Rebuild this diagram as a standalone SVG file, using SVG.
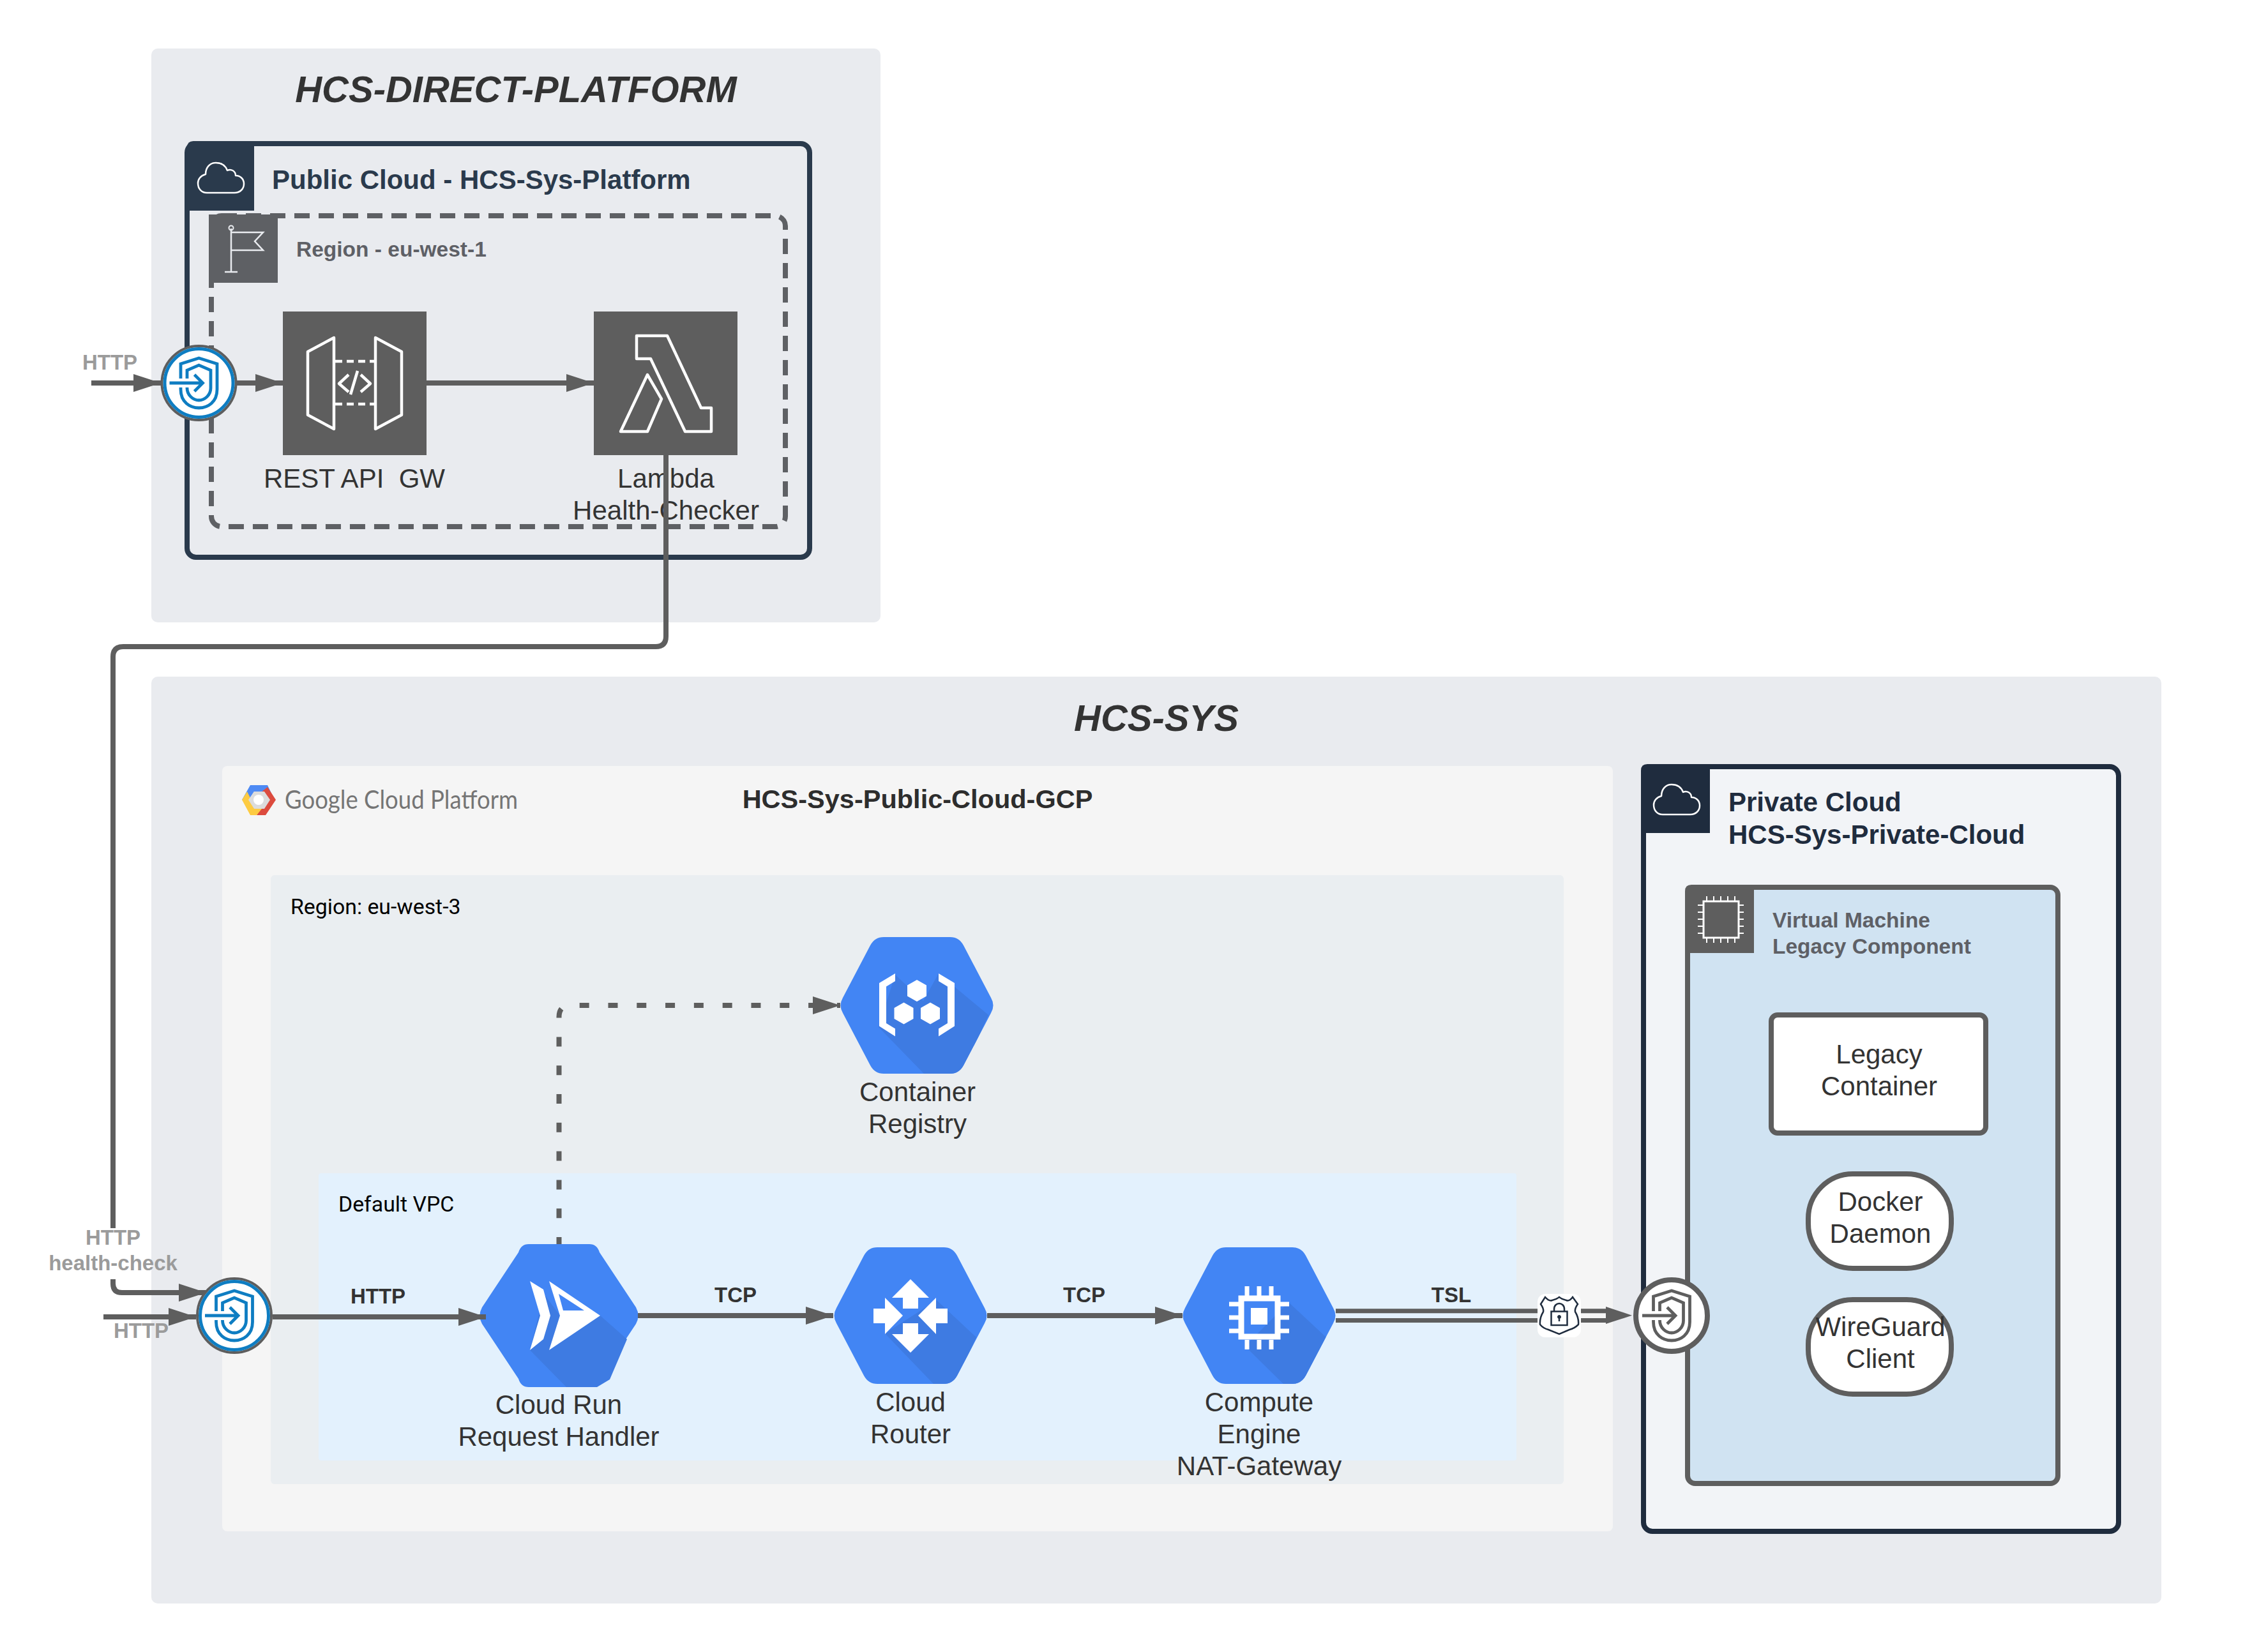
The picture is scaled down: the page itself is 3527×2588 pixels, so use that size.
<svg xmlns="http://www.w3.org/2000/svg" xmlns:xlink="http://www.w3.org/1999/xlink" width="3527" height="2588" viewBox="0 0 3527 2588">
<style>
text{font-family:"Liberation Sans",Arial,sans-serif;white-space:pre}
.lbl{font-size:42px;fill:#333;text-anchor:middle}
.title{font-size:58px;font-weight:bold;font-style:italic;fill:#333;text-anchor:middle}
.head{font-size:42px;font-weight:bold;fill:#1f2c3e}
.sub{font-size:33.500px;font-weight:bold;fill:#5e6066}
.gl{font-size:33px;font-weight:bold;fill:#9b9b9b;text-anchor:middle}
.el{font-size:33px;font-weight:bold;fill:#333;text-anchor:middle}
.rb{font-family:Roboto,"Liberation Sans",sans-serif;font-size:33.800px;fill:#000}
.line{fill:none;stroke:#5e5e5e;stroke-width:8}
.wo{fill:none;stroke:#fff;stroke-width:4.5;stroke-linejoin:round}
.hex{fill:#4285f4}.shade{fill:#3e7be2}
.sh{fill:none;stroke:currentColor;stroke-width:4.8;stroke-linejoin:miter}
.w{fill:#fff}
.shapebox{stroke:#5e5e5e;stroke-width:8;fill:#fff}
</style>
<defs>
<marker id="a" markerUnits="userSpaceOnUse" markerWidth="44" markerHeight="30" refX="43" refY="14" orient="auto"><path d="M0 0L43 14L0 28Z" fill="#5e5e5e"/></marker>
<path id="hexp" d="M68 0H172Q186 0 193 13L236 95Q243 107 236 119L193 201Q186 214 172 214H68Q54 214 47 201L4 119Q-3 107 4 95L47 13Q54 0 68 0Z"/>
<clipPath id="hc"><use xlink:href="#hexp"/></clipPath>
<path id="cl" class="wo" style="stroke-width:2.5" d="M15 48H58C67 48 73 42 73 34C73 26 67 21 60 21C60 14 53 10 47 13C44 5 37 1 29 1C20 1 13 8 13 19C5 21 1 27 1 33C1 42 7 48 15 48Z"/>
<g id="shi">
<path class="sh" d="M-28.500 -7V-30L0 -39L28.500 -30V10C28.500 30 14 39 0 39C-14 39 -28.500 30 -28.500 10V7"/>
<path class="sh" d="M-18.500 -7V-20L0 -28L18.500 -20V8C18.500 19 9 27 0 27C-9 27 -18.500 19 -18.500 8V7"/>
<path class="sh" d="M-46 0H6M-7 -13L6 0L-7 13"/>
</g>
</defs>

<g id="hcs-direct-platform">
<rect x="237" y="76" width="1142" height="899" rx="10" fill="#e9ebef"/>
<text class="title" x="808" y="160">HCS-DIRECT-PLATFORM</text>
</g>
<g id="hcs-sys">
<rect x="237" y="1060" width="3148" height="1452" rx="10" fill="#e9ebef"/>
<text class="title" x="1811" y="1145">HCS-SYS</text>
</g>

<g id="public-cloud">
<rect x="293" y="225" width="975" height="648" rx="14" fill="#e9ebef" stroke="#2a3a4c" stroke-width="8"/>
<path d="M303 221H398V330H293V231Q293 221 303 221Z" fill="#2a3a4c"/>
<use xlink:href="#cl" x="309" y="254"/>
<text class="head" style="fill:#2a3a4c" x="426" y="296">Public Cloud - HCS-Sys-Platform</text>
</g>
<g id="region-west-1">
<rect x="331" y="338" width="899" height="487" rx="16" fill="none" stroke="#5e6064" stroke-width="8" stroke-dasharray="24 14"/>
<rect x="327" y="336" width="108" height="107" fill="#5e6064"/>
<path d="M362 358V426M352 426H372M362 364H412L399 378L412 392H362" fill="none" stroke="#e9ebef" stroke-width="2.5"/>
<circle cx="362" cy="357" r="3.500" fill="none" stroke="#e9ebef" stroke-width="2"/>
<text class="sub" x="464" y="402">Region - eu-west-1</text>
</g>
<g id="rest-api-gw">
<rect x="443" y="488" width="225" height="225" fill="#5e5e5e"/>
<g transform="translate(443 488)">
<path class="wo" d="M80 41L39 63V162L80 184ZM145 41L186 63V162L145 184Z"/>
<path class="wo" stroke-dasharray="11 7" d="M82 78H145M82 145H145"/>
<path class="wo" d="M103 99L88 113L103 126M122 99L137 113L122 126M117 93L106 130"/>
</g>
<text class="lbl" x="555" y="764">REST API  GW</text>
</g>
<g id="lambda">
<rect x="930" y="488" width="225" height="225" fill="#5e5e5e"/>
<g transform="translate(930 488)">
<path class="wo" d="M67 38H115L168 151H184V188H143L89 74H67ZM84 99L106 137L84 188H42Z"/>
</g>
<text class="lbl" x="1043" y="764">Lambda</text>
<text class="lbl" x="1043" y="814">Health-Checker</text>
</g>

<g id="gcp">
<rect x="348" y="1200" width="2178" height="1199" rx="8" fill="#f5f5f5"/>
<path d="M392 1230H419L428 1249L417 1246L409 1240H398L388 1256L379 1253Z" fill="#4e8af4"/>
<path d="M419 1233L432 1253L416 1277H402L414 1256L409 1241Z" fill="#dc4b3e"/>
<path d="M379 1253L387 1240L398 1262H414L402 1277H392Z" fill="#fdcb42"/>
<path d="M398 1240H414L423 1253L414 1267H398L389 1253Z" fill="#dcdcdc"/>
<circle cx="405" cy="1253" r="8" fill="#fff"/>
<text x="446" y="1267" style="font-family:Lato,'Liberation Sans',sans-serif;font-size:40px;fill:#757575" textLength="365" lengthAdjust="spacingAndGlyphs">Google Cloud Platform</text>
<text x="1437" y="1266" style="font-size:41.500px;font-weight:bold;fill:#2d2d2d;text-anchor:middle">HCS-Sys-Public-Cloud-GCP</text>
</g>
<g id="region-west-3">
<rect x="424" y="1371" width="2025" height="954" rx="6" fill="#eaeef1"/>
<text class="rb" x="455" y="1432">Region: eu-west-3</text>
</g>
<g id="default-vpc">
<rect x="499" y="1838" width="1876" height="450" rx="4" fill="#e3f1fd"/>
<text class="rb" x="530" y="1898">Default VPC</text>
</g>

<g id="container-registry">
<g transform="translate(1316 1468)">
<use xlink:href="#hexp" class="hex"/>
<polygon class="shade" clip-path="url(#hc)" points="60,141 86,59 130,100 154,57 232,122 190,214 131,214"/>
<path class="w" d="M86 57L61 72V139.500L86 155.500V143.500L72 135V77.500L86 69ZM154 57L179 72V139.500L154 155.500V143.500L168 135V77.500L154 69Z"/>
<path class="w" d="M120 67L135 75.500V92.500L120 101L105 92.500V75.500ZM99.500 102.500L114.500 111V128L99.500 136.500L84.500 128V111ZM141 102.500L156 111V128L141 136.500L126 128V111Z"/>
</g>
<text class="lbl" x="1437" y="1725">Container</text>
<text class="lbl" x="1437" y="1775">Registry</text>
</g>
<g id="cloud-run">
<g transform="translate(752 1949)">
<path class="hex" d="M76 0H171Q183 0 187 13L244 99Q251 112 244 125L187 211Q183 224 171 224H76Q64 224 60 211L3 125Q-4 112 3 99L60 13Q64 0 76 0Z"/>
<polygon class="shade" points="188,112 230,149 203,212 183,224 135,224 78,166 100,78 125,112"/>
<path class="w" d="M78 58L99 71L110 112L99 149L78 166L94 112Z"/>
<path class="w" fill-rule="evenodd" d="M108 58L188 112L108 166L125 112ZM123 78L130 104H163Z"/>
</g>
<text class="lbl" x="875" y="2215">Cloud Run</text>
<text class="lbl" x="875" y="2265">Request Handler</text>
</g>
<g id="cloud-router">
<g transform="translate(1306 1954)">
<use xlink:href="#hexp" class="hex"/>
<polygon class="shade" clip-path="url(#hc)" points="80,135 161,83 223,141 190,214 156,214"/>
<path class="w" d="M120 50L149 79H132V96H108V79H91ZM120 165L91 136H108V119H132V136H149ZM108 107L80 136V119H62V96H80V79ZM132 107L160 79V96H178V119H160V136Z"/>
</g>
<text class="lbl" x="1426" y="2211">Cloud</text>
<text class="lbl" x="1426" y="2261">Router</text>
</g>
<g id="compute-engine">
<g transform="translate(1852 1954)">
<use xlink:href="#hexp" class="hex"/>
<polygon class="shade" clip-path="url(#hc)" points="166,86 225,141 190,214 158,214 98,155"/>
<rect x="92" y="80" width="57" height="60" fill="none" stroke="#fff" stroke-width="9"/>
<rect x="107" y="95" width="26" height="26" class="w"/>
<path fill="none" stroke="#fff" stroke-width="7" d="M101 61V76M120 61V76M139 61V76M101 145V160M120 145V160M139 145V160M73 89H88M73 110H88M73 131H88M153 89H167M153 110H167M153 131H167"/>
</g>
<text class="lbl" x="1972" y="2211">Compute</text>
<text class="lbl" x="1972" y="2261">Engine</text>
<text class="lbl" x="1972" y="2311">NAT-Gateway</text>
</g>

<g id="private-cloud">
<rect x="2574" y="1201" width="744" height="1198" rx="14" fill="#f2f4f7" stroke="#1f2c3e" stroke-width="8"/>
<path d="M2580 1197H2678V1305H2570V1207Q2570 1197 2580 1197Z" fill="#1f2c3e"/>
<use xlink:href="#cl" x="2589" y="1228"/>
<text class="head" x="2707" y="1271">Private Cloud</text>
<text class="head" x="2707" y="1322">HCS-Sys-Private-Cloud</text>
</g>
<g id="virtual-machine">
<rect x="2643" y="1390" width="580" height="934" rx="12" fill="#d0e3f2" stroke="#5e5e5e" stroke-width="8"/>
<path d="M2649 1386H2747V1493H2639V1396Q2639 1386 2649 1386Z" fill="#5e5e5e"/>
<rect x="2668" y="1412" width="55" height="57" fill="none" stroke="#fff" stroke-width="3"/>
<path fill="none" stroke="#fff" stroke-width="2" d="M2673 1404V1411M2684 1404V1411M2695 1404V1411M2706 1404V1411M2717 1404V1411M2673 1470V1477M2684 1470V1477M2695 1470V1477M2706 1470V1477M2717 1470V1477M2659 1418H2667M2659 1429H2667M2659 1440H2667M2659 1451H2667M2659 1462H2667M2724 1418H2731M2724 1429H2731M2724 1440H2731M2724 1451H2731M2724 1462H2731"/>
<text class="sub" x="2776" y="1453">Virtual Machine</text>
<text class="sub" x="2776" y="1494">Legacy Component</text>
</g>
<g id="legacy-container">
<rect class="shapebox" x="2774" y="1590" width="336" height="185" rx="10"/>
<text class="lbl" x="2943" y="1666">Legacy</text>
<text class="lbl" x="2943" y="1716">Container</text>
</g>
<g id="docker-daemon">
<rect class="shapebox" x="2832" y="1839" width="224" height="148" rx="70"/>
<text class="lbl" x="2945" y="1897">Docker</text>
<text class="lbl" x="2945" y="1947">Daemon</text>
</g>
<g id="wireguard-client">
<rect class="shapebox" x="2832" y="2036" width="224" height="148" rx="70"/>
<text class="lbl" x="2945" y="2093">WireGuard</text>
<text class="lbl" x="2945" y="2143">Client</text>
</g>

<g id="connectors">
<path class="line" d="M143 600H252" marker-end="url(#a)"/>
<path class="line" d="M370 600H443" marker-end="url(#a)"/>
<path class="line" d="M668 600H930" marker-end="url(#a)"/>
<path class="line" d="M1043 713V997Q1043 1013 1027 1013H193Q177 1013 177 1029V1924"/>
<path class="line" d="M177 2004V2011Q177 2025 191 2025H323" marker-end="url(#a)"/>
<path class="line" d="M162 2063H307" marker-end="url(#a)"/>
<path class="line" d="M427 2063H761" marker-end="url(#a)"/>
<path class="line" d="M999 2061H1305" marker-end="url(#a)"/>
<path class="line" d="M1546 2061H1852" marker-end="url(#a)"/>
<path class="line" stroke-dasharray="15 29.800" stroke-dashoffset="4" d="M875.500 1949V1593Q875.500 1575 893.500 1575H1316" marker-end="url(#a)"/>
<path class="line" style="stroke-width:7" d="M2092 2053.700H2515M2092 2068.500H2515"/>
<path d="M2515 2047L2556 2060.700L2515 2074Z" fill="#5e5e5e"/>
<text class="gl" x="172" y="579">HTTP</text>
<text class="gl" x="177" y="1950">HTTP</text>
<text class="gl" x="177" y="1990">health-check</text>
<text class="gl" x="221" y="2096">HTTP</text>
<text class="el" x="592" y="2042">HTTP</text>
<text class="el" x="1152" y="2040">TCP</text>
<text class="el" x="1698" y="2040">TCP</text>
<text class="el" x="2273" y="2040">TSL</text>
</g>

<g id="tls-lock">
<rect x="2408" y="2027" width="68" height="68" rx="12" fill="#fff"/>
<g fill="none" stroke="#1f2c3e" stroke-width="2.500">
<path d="M2420 2032Q2426 2039 2431 2037Q2437 2036 2442 2032Q2447 2036 2453 2037Q2458 2039 2463 2032L2471 2043Q2466 2050 2467 2055Q2473 2065 2472 2075Q2466 2081 2458 2083L2442 2090L2425 2083Q2417 2081 2412 2075Q2411 2065 2417 2055Q2418 2050 2413 2043Z"/>
<rect x="2429.500" y="2054.500" width="25" height="21.500"/>
<path d="M2434 2054V2051C2434 2039 2450 2039 2450 2051V2054"/>
</g>
<circle cx="2442" cy="2063" r="2.500" fill="#1f2c3e" stroke="#1f2c3e"/><path d="M2442 2063V2070" stroke="#1f2c3e" stroke-width="2.500"/>
</g>
<g id="gateway-public" color="#0e7dc2">
<circle cx="311.500" cy="600" r="58" fill="#fff" stroke="#5e5e5e" stroke-width="4"/>
<circle cx="311.500" cy="600" r="53.500" fill="none" stroke="#0e7dc2" stroke-width="5"/>
<use xlink:href="#shi" x="311.500" y="600"/>
</g>
<g id="gateway-sys" color="#0e7dc2">
<circle cx="367" cy="2061" r="58" fill="#fff" stroke="#5e5e5e" stroke-width="4"/>
<circle cx="367" cy="2061" r="53.500" fill="none" stroke="#0e7dc2" stroke-width="5"/>
<use xlink:href="#shi" x="367" y="2061"/>
</g>
<g id="gateway-private" color="#5e5e5e">
<circle cx="2618" cy="2061" r="56" fill="#fff" stroke="#5e5e5e" stroke-width="8"/>
<use xlink:href="#shi" x="2618" y="2061"/>
</g>
</svg>
